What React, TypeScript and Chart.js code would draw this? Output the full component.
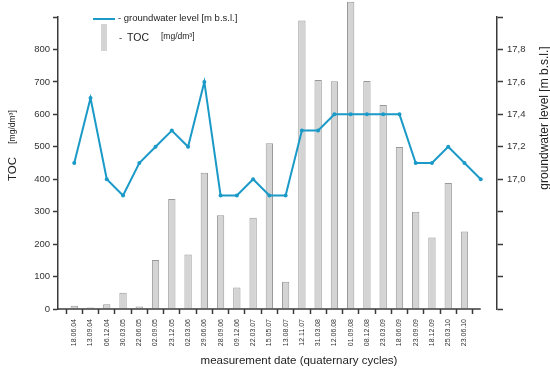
import React, { useEffect, useRef } from 'react';
import { Chart, registerables } from 'chart.js';

Chart.register(...registerables);

const dates = [
  '18.06.04', '13.09.04', '06.12.04', '30.03.05', '22.06.05', '02.09.05', '23.12.05',
  '02.03.06', '29.06.06', '28.09.06', '09.12.06', '22.03.07', '15.05.07', '13.08.07',
  '12.11.07', '31.03.08', '12.06.08', '01.09.08', '08.12.08', '23.03.09', '18.06.09',
  '23.09.09', '18.12.09', '25.03.10', '23.06.10',
];

const tocValues = [
  10, 5, 15, 50, 8, 151, 339, 168, 420, 289, 66, 281, 511, 84,
  889, 706, 702, 947, 703, 629, 499, 300, 220, 388, 239,
];

// 26 readings: the last one sits on the unlabelled final tick
const groundwaterLevel = [
  17.1, 17.5, 17.0, 16.9, 17.1, 17.2, 17.3, 17.2, 17.6, 16.9, 16.9, 17.0, 16.9, 16.9,
  17.3, 17.3, 17.4, 17.4, 17.4, 17.4, 17.4, 17.1, 17.1, 17.2, 17.1, 17.0,
];

const tocTicks = [0, 100, 200, 300, 400, 500, 600, 700, 800];
const gwTicks = [17.0, 17.2, 17.4, 17.6, 17.8];

const FONT = '"Liberation Sans", Arial, Helvetica, sans-serif';
const AXIS = '#3a3a3a';
const LINE = '#1b9ac8';

const labels = ['', ...dates, '', ''];
const barData = [null, ...tocValues, null, null];
const lineData = [null, ...groundwaterLevel, null];

const decor = {
  id: 'decor',
  afterDraw(chart: any) {
    const ctx = chart.ctx as CanvasRenderingContext2D;
    const xs = chart.scales.x;
    const area = chart.chartArea;
    ctx.save();
    // x axis baseline (ends at last tick)
    ctx.strokeStyle = AXIS;
    ctx.lineWidth = 1.5;
    ctx.beginPath();
    ctx.moveTo(area.left, area.bottom);
    ctx.lineTo(xs.getPixelForValue(groundwaterLevel.length), area.bottom);
    ctx.stroke();

    ctx.fillStyle = '#222';
    // x title
    ctx.textAlign = 'center';
    ctx.textBaseline = 'middle';
    ctx.font = `11.5px ${FONT}`;
    ctx.fillText('measurement date (quaternary cycles)', 299, 361);

    // left title
    ctx.save();
    ctx.translate(16, 169);
    ctx.rotate(-Math.PI / 2);
    ctx.textBaseline = 'alphabetic';
    ctx.font = `11.5px ${FONT}`;
    ctx.fillText('TOC', 0, 0);
    ctx.restore();
    ctx.save();
    ctx.translate(15, 127);
    ctx.rotate(-Math.PI / 2);
    ctx.textBaseline = 'alphabetic';
    ctx.font = `8.5px ${FONT}`;
    ctx.fillText('[mg/dm³]', 0, 0);
    ctx.restore();

    // right title
    ctx.save();
    ctx.translate(548, 118);
    ctx.rotate(-Math.PI / 2);
    ctx.textBaseline = 'alphabetic';
    ctx.font = `12px ${FONT}`;
    ctx.fillText('groundwater level [m b.s.l.]', 0, 0);
    ctx.restore();

    // legend
    ctx.strokeStyle = LINE;
    ctx.lineWidth = 2;
    ctx.beginPath();
    ctx.moveTo(93, 19);
    ctx.lineTo(115, 19);
    ctx.stroke();
    ctx.fillStyle = '#d4d4d4';
    ctx.fillRect(101, 24, 6, 27);
    ctx.fillStyle = '#222';
    ctx.textAlign = 'left';
    ctx.textBaseline = 'middle';
    ctx.font = `9.5px ${FONT}`;
    ctx.fillText('- groundwater level [m b.s.l.]', 118, 18);
    ctx.fillText('-', 119, 38);
    ctx.font = `10.5px ${FONT}`;
    ctx.fillText('TOC', 127, 38);
    ctx.font = `8.5px ${FONT}`;
    ctx.fillText('[mg/dm³]', 161, 37);
    ctx.restore();
  },
};

export default function App() {
  const ref = useRef<HTMLCanvasElement | null>(null);
  useEffect(() => {
    document.body.style.margin = '0';
    const canvas = ref.current;
    if (!canvas) return;
    const chart = new Chart(canvas, {
      type: 'bar',
      data: {
        labels,
        datasets: [
          {
            type: 'line',
            label: 'groundwater level [m b.s.l.]',
            data: lineData as any,
            yAxisID: 'y1',
            borderColor: LINE,
            backgroundColor: LINE,
            borderWidth: 2,
            pointRadius: 2,
            pointBorderWidth: 0,
            tension: 0,
            spanGaps: false,
            order: 0,
          } as any,
          {
            type: 'bar',
            label: 'TOC',
            data: barData as any,
            yAxisID: 'y',
            backgroundColor: '#d4d4d4',
            borderColor: '#999999',
            borderWidth: 1,
            barPercentage: 0.45,
            categoryPercentage: 1,
            clip: false,
            order: 1,
          } as any,
        ],
      },
      options: {
        responsive: false,
        animation: false,
        layout: { padding: { top: 17, left: 0, right: 0, bottom: 0 } },
        plugins: { legend: { display: false }, tooltip: { enabled: false } },
        scales: {
          x: {
            type: 'category',
            offset: false,
            border: { display: false },
            grid: {
              drawOnChartArea: false,
              drawTicks: true,
              tickLength: 5,
              tickWidth: 1.5,
              tickColor: (c: any) => (c.index === 0 || c.index === labels.length - 1 ? 'rgba(0,0,0,0)' : AXIS),
            },
            ticks: {
              autoSkip: false,
              minRotation: 90,
              maxRotation: 90,
              padding: 5,
              color: '#333',
              font: { family: FONT, size: 7 },
            },
            afterFit: (s: any) => { s.height = 61; },
          },
          y: {
            position: 'left',
            min: 0,
            max: 900,
            border: { display: true, color: AXIS, width: 1.5 },
            grid: { drawOnChartArea: false, tickLength: 5, tickColor: AXIS, tickWidth: 1.5 },
            ticks: {
              stepSize: 100,
              padding: 3,
              color: '#333',
              font: { family: FONT, size: 9.5 },
              callback: (v: any) => (tocTicks.includes(Number(v)) ? String(v) : ''),
            },
            afterFit: (s: any) => { s.width = 58; },
          },
          y1: {
            position: 'right',
            min: 16.2,
            max: 18.0,
            border: { display: true, color: AXIS, width: 1.5 },
            grid: { drawOnChartArea: false, tickLength: 6, tickColor: AXIS, tickWidth: 1.5 },
            ticks: {
              stepSize: 0.2,
              padding: 4,
              color: '#333',
              font: { family: FONT, size: 9.5 },
              callback: (v: any) => {
                const n = Number(v);
                return gwTicks.some((t) => Math.abs(t - n) < 1e-6) ? n.toFixed(1).replace('.', ',') : '';
              },
            },
            afterFit: (s: any) => { s.width = 53; },
          },
        },
      },
      plugins: [decor],
    });
    return () => chart.destroy();
  }, []);
  return <canvas ref={ref} width={550} height={370} style={{ display: 'block' }} />;
}
